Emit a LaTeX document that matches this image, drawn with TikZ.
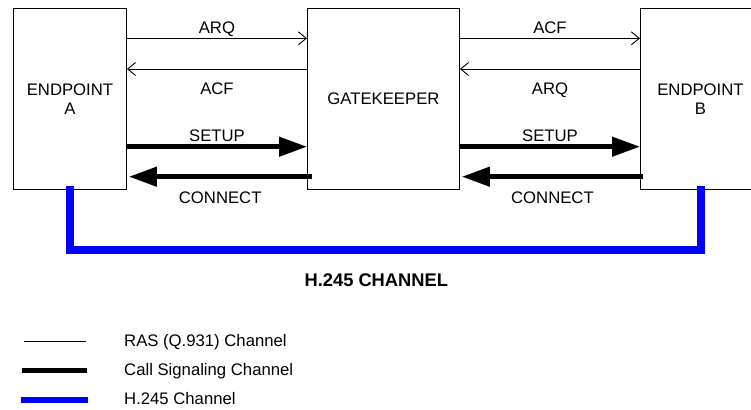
\documentclass[tikz,border=0pt]{standalone}
\usepackage{fontspec}
\setmainfont{Liberation Sans}
\usetikzlibrary{arrows.meta,positioning,calc}
\definecolor{hblue}{HTML}{0000FF}

\begin{document}
\begin{tikzpicture}[x=1pt,y=-1pt,
  unit/.style={draw=black,line width=0.9pt,inner sep=0pt,align=center,minimum height=181pt,anchor=north west,font=\fontsize{16.7}{18.3}\selectfont},
  ras/.style={line width=0.9pt,-{Straight Barb[length=8pt,width=13pt,line width=0.9pt]}},
  csig/.style={line width=4.5pt,-{Triangle[length=28pt,width=19pt]}},
  hchan/.style={line width=8pt,hblue},
  lab/.style={font=\fontsize{16.7}{20}\selectfont,inner sep=0pt,anchor=base}]
  \useasboundingbox (0,0) rectangle (751,409);
  \clip (0,0) rectangle (751,409);
  % the three units
  \node[unit,minimum width=113pt] (epA) at (13,8.3) {ENDPOINT\\A};
  \node[unit,minimum width=152pt] (gk) at (307,8.3) {GATEKEEPER};
  \node[unit,minimum width=120pt] (epB) at (640,8.3) {ENDPOINT\\B};
  % RAS messages
  \draw[ras] ([yshift=-30pt]epA.north east) -- node[lab,yshift=5pt]{ARQ} ([yshift=-30pt]gk.north west);
  \draw[ras] ([yshift=-60.7pt]gk.north west) -- node[lab,yshift=-26pt]{ACF} ([yshift=-60.7pt]epA.north east);
  \draw[ras] ([yshift=-30pt]gk.north east) -- node[lab,yshift=5pt]{ACF} ([yshift=-30pt]epB.north west);
  \draw[ras] ([yshift=-60.7pt]epB.north west) -- node[lab,yshift=-26pt]{ARQ} ([yshift=-60.7pt]gk.north east);
  % call signaling
  \draw[csig] ([yshift=-138.4pt]epA.north east) -- node[lab,yshift=5pt]{SETUP} ([yshift=-138.4pt]gk.north west);
  \draw[csig] ([xshift=4.5pt,yshift=-168.4pt]gk.north west) -- node[lab,yshift=-26.6pt]{CONNECT} ([xshift=2pt,yshift=-168.4pt]epA.north east);
  \draw[csig] ([yshift=-138.4pt]gk.north east) -- node[lab,yshift=5pt]{SETUP} ([yshift=-138.4pt]epB.north west);
  \draw[csig] ([xshift=3pt,yshift=-168.4pt]epB.north west) -- node[lab,yshift=-26.6pt]{CONNECT} ([xshift=2pt,yshift=-168.4pt]gk.north east);
  % H.245 channel
  \coordinate (hA) at ([xshift=0.5pt,yshift=4pt]epA.south);
  \coordinate (hB) at ([xshift=0.5pt,yshift=4pt]epB.south);
  \draw[hchan] (hA) -- ++(0,64) -| (hB);
  \node[lab,font=\fontsize{18.3}{20}\selectfont\bfseries] (hlab) at (376.3,286.7) {H.245 CHANNEL};
  % legend
  \node[lab,anchor=base west] (lgRas) at (124,346.7) {RAS (Q.931) Channel};
  \node[lab,anchor=base west] (lgCall) at (124,375) {Call Signaling Channel};
  \node[lab,anchor=base west] (lgH) at (124,404.3) {H.245 Channel};
  \draw[line width=0.9pt] (24,341.7) -- (85.7,341.7);
  \draw[line width=4.5pt] (21.7,370.7) -- (87.3,370.7);
  \draw[line width=6pt,hblue] (21,400) -- (88.3,400);
\end{tikzpicture}
\end{document}
